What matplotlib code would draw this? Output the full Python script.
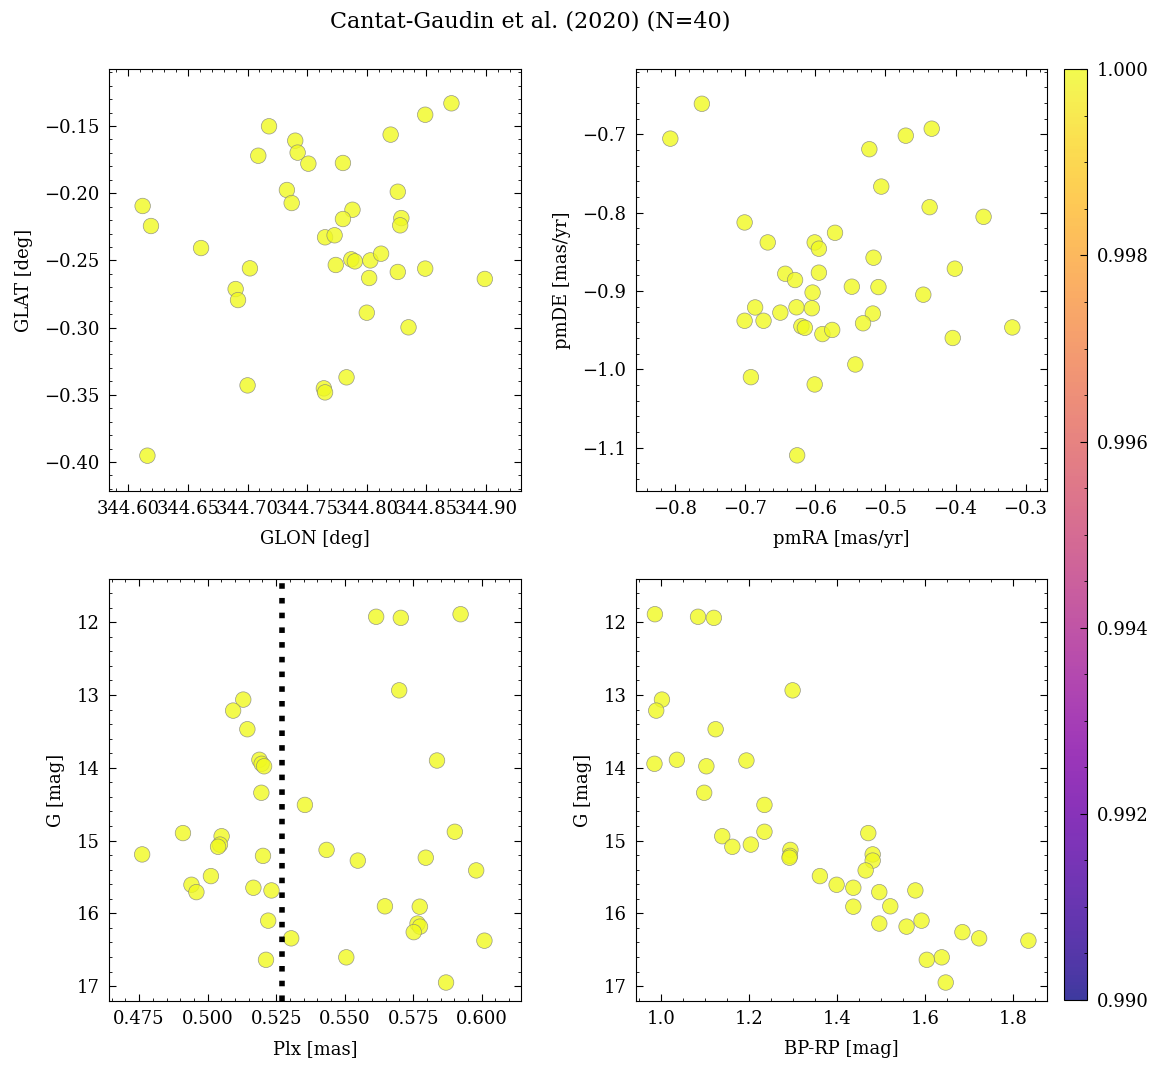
import numpy as np
import matplotlib
matplotlib.use("Agg")
import matplotlib.pyplot as plt

# values
glon = [344.612, 344.619, 344.616, 344.661, 344.702, 344.690, 344.692, 344.700,
        344.709, 344.718, 344.740, 344.742, 344.751, 344.733, 344.737, 344.780,
        344.820, 344.849, 344.871, 344.826, 344.788, 344.780, 344.829, 344.828,
        344.765, 344.773, 344.774, 344.787, 344.790, 344.803, 344.812, 344.802,
        344.826, 344.849, 344.899, 344.800, 344.835, 344.783, 344.764, 344.765]
glat = [-0.2095, -0.2244, -0.3953, -0.2408, -0.2559, -0.2713, -0.2795, -0.3430,
        -0.1721, -0.1502, -0.1609, -0.1698, -0.1780, -0.1976, -0.2073, -0.1775,
        -0.1564, -0.1416, -0.1331, -0.1989, -0.2123, -0.2192, -0.2185, -0.2239,
        -0.2328, -0.2313, -0.2534, -0.2492, -0.2507, -0.2500, -0.2450, -0.2631,
        -0.2586, -0.2561, -0.2638, -0.2889, -0.2998, -0.3370, -0.3452, -0.3482]

pmra = [-0.807, -0.762, -0.701, -0.668, -0.601, -0.595, -0.572, -0.643,
        -0.629, -0.595, -0.604, -0.686, -0.701, -0.674, -0.650, -0.627,
        -0.605, -0.620, -0.615, -0.590, -0.576, -0.548, -0.517, -0.510,
        -0.518, -0.532, -0.543, -0.692, -0.601, -0.626, -0.523, -0.506,
        -0.471, -0.434, -0.437, -0.360, -0.401, -0.446, -0.404, -0.319]
pmde = [-0.7055, -0.661, -0.8125, -0.838, -0.838, -0.846, -0.8257, -0.878,
        -0.886, -0.8766, -0.902, -0.921, -0.938, -0.938, -0.9276, -0.9208,
        -0.922, -0.945, -0.947, -0.955, -0.9497, -0.8945, -0.8575, -0.895,
        -0.9288, -0.9412, -0.9938, -1.010, -1.0193, -1.1098, -0.719, -0.7667,
        -0.7017, -0.6928, -0.793, -0.8053, -0.8715, -0.9047, -0.960, -0.9465]

gmag = [11.890, 11.925, 11.940, 12.936, 13.063, 13.214, 13.470, 13.890,
        13.900, 13.945, 13.979, 14.343, 14.510, 14.879, 14.897, 14.940,
        15.055, 15.085, 15.128, 15.190, 15.210, 15.235, 15.275, 15.410,
        15.488, 15.607, 15.648, 15.685, 15.708, 15.903, 15.908, 16.100,
        16.140, 16.182, 16.258, 16.343, 16.375, 16.604, 16.638, 16.950]
plx = [0.5923, 0.5615, 0.5705, 0.5699, 0.5130, 0.5093, 0.5145, 0.5189,
       0.5837, 0.5197, 0.5206, 0.5196, 0.5355, 0.5902, 0.4910, 0.5051,
       0.5045, 0.5038, 0.5434, 0.4761, 0.5202, 0.5796, 0.5548, 0.5980,
       0.5012, 0.4941, 0.5167, 0.5233, 0.4959, 0.5647, 0.5774, 0.5221,
       0.5766, 0.5775, 0.5752, 0.5305, 0.6010, 0.5506, 0.5213, 0.5870]
bprp = [0.986, 1.084, 1.120, 1.299, 1.002, 0.989, 1.124, 1.036,
        1.194, 0.985, 1.103, 1.098, 1.235, 1.235, 1.471, 1.139,
        1.204, 1.162, 1.294, 1.481, 1.293, 1.292, 1.481, 1.465,
        1.361, 1.399, 1.437, 1.578, 1.496, 1.521, 1.437, 1.592,
        1.496, 1.558, 1.685, 1.723, 1.835, 1.638, 1.604, 1.647]

# membership probability (all 1 here)
proba = np.ones(len(gmag))
plx_line = 0.5273

plt.rcParams['font.family'] = ['DejaVu Serif']
plt.rcParams['font.size'] = 13
plt.rcParams['xtick.direction'] = 'in'
plt.rcParams['ytick.direction'] = 'in'
plt.rcParams['xtick.top'] = True
plt.rcParams['ytick.right'] = True
plt.rcParams['xtick.minor.visible'] = True
plt.rcParams['ytick.minor.visible'] = True
plt.rcParams['xtick.major.size'] = 5
plt.rcParams['ytick.major.size'] = 5
plt.rcParams['xtick.minor.size'] = 2.5
plt.rcParams['ytick.minor.size'] = 2.5
plt.rcParams['xtick.major.pad'] = 7
plt.rcParams['ytick.major.pad'] = 7
plt.rcParams['axes.labelpad'] = 8

fig = plt.figure(figsize=(11.61, 10.68), dpi=100)
w, h = 0.3543, 0.3946
ax1 = fig.add_axes([0.0941, 0.5405, w, h])
ax2 = fig.add_axes([0.5478, 0.5405, w, h])
ax3 = fig.add_axes([0.0941, 0.0630, w, h])
ax4 = fig.add_axes([0.5478, 0.0630, w, h])
cax = fig.add_axes([0.9165, 0.0637, 0.0198, 0.8714])

kw = dict(c=proba, cmap='plasma', vmin=0.99, vmax=1.0, s=125, alpha=0.8,
          edgecolors='gray', linewidths=0.5)

sc = ax1.scatter(glon, glat, **kw)
ax1.set_xlim(344.584, 344.929)
ax1.set_ylim(-0.4214, -0.1078)
ax1.set_xlabel('GLON [deg]')
ax1.set_ylabel('GLAT [deg]')

ax2.scatter(pmra, pmde, **kw)
ax2.set_xlim(-0.856, -0.269)
ax2.set_ylim(-1.155, -0.617)
ax2.set_xlabel('pmRA [mas/yr]')
ax2.set_ylabel('pmDE [mas/yr]')

ax3.scatter(plx, gmag, **kw)
ax3.axvline(plx_line, color='k', ls=':', lw=4)
ax3.set_xlim(0.4641, 0.6142)
ax3.set_ylim(17.2, 11.41)
ax3.set_xlabel('Plx [mas]')
ax3.set_ylabel('G [mag]')

ax4.scatter(bprp, gmag, **kw)
ax4.set_xlim(0.943, 1.878)
ax4.set_ylim(17.2, 11.41)
ax4.set_xlabel('BP-RP [mag]')
ax4.set_ylabel('G [mag]')

cb = fig.colorbar(sc, cax=cax)
cb.set_ticks([0.990, 0.992, 0.994, 0.996, 0.998, 1.000])
cb.ax.yaxis.set_major_formatter(matplotlib.ticker.FormatStrFormatter('%.3f'))
cb.ax.tick_params(which='both', direction='in')

fig.suptitle('Cantat-Gaudin et al. (2020) (N=40)', fontsize=16, x=0.4565, y=0.9905)

fig.savefig('out.png', dpi=100)
